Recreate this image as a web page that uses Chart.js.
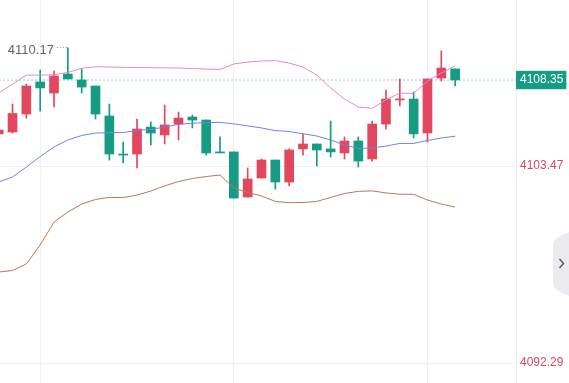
<!DOCTYPE html>
<html><head><meta charset="utf-8">
<script src="https://cdn.jsdelivr.net/npm/chart.js@4.4.1/dist/chart.umd.min.js"></script>
<style>html,body{margin:0;padding:0;background:#fff;overflow:hidden}#wrap{width:569px;height:383px;position:relative}</style>
</head><body><div id="wrap"><canvas id="c" width="569" height="383"></canvas></div>
<script>
// ---- data ----
const candleIndex = [0,1,2,3,4,5,6,7,8,9,10,11,12,13,14,15,16,17,18,19,20,21,22,23,24,25,26,27,28,29,30,31,32,33];
const opens  = [4105.29,4105.40,4106.42,4108.24,4107.61,4108.69,4108.35,4108.01,4106.31,4104.15,4104.15,4105.68,4105.23,4105.85,4106.25,4106.08,4104.27,4104.27,4101.71,4102.79,4103.81,4102.56,4104.44,4104.72,4104.44,4104.21,4104.89,4103.87,4105.85,4107.22,4107.27,4105.34,4108.46,4108.98];
const highs  = [4105.63,4106.99,4108.12,4108.92,4108.86,4110.17,4108.98,4108.01,4106.99,4104.83,4106.14,4105.97,4106.93,4106.53,4106.36,4106.08,4105.12,4104.27,4103.36,4103.87,4103.81,4104.44,4105.29,4104.72,4106.02,4105.12,4105.12,4106.02,4107.78,4108.41,4107.67,4108.41,4110.00,4108.98];
const lows   = [4105.17,4105.34,4106.19,4106.59,4106.82,4108.41,4107.61,4106.14,4103.81,4103.64,4103.36,4104.66,4104.72,4104.95,4105.63,4104.09,4104.21,4101.65,4101.71,4102.79,4102.16,4102.34,4104.09,4103.47,4103.98,4103.87,4103.41,4103.75,4105.57,4106.88,4105.06,4104.83,4108.29,4108.01];
const closes = [4105.51,4106.45,4108.01,4107.90,4108.58,4108.41,4107.95,4106.42,4104.15,4104.09,4105.57,4105.34,4105.80,4106.19,4106.08,4104.21,4104.21,4101.65,4102.73,4103.81,4102.56,4104.38,4104.72,4104.38,4104.27,4104.89,4103.75,4105.85,4107.27,4107.27,4105.29,4108.41,4109.03,4108.35];
const upperBand  = [4107.61,4108.12,4108.63,4108.63,4108.65,4108.78,4109.02,4109.10,4109.09,4109.07,4109.06,4109.05,4109.04,4109.03,4109.00,4108.97,4108.95,4109.26,4109.37,4109.43,4109.45,4109.31,4109.09,4108.63,4107.90,4107.27,4106.82,4106.74,4107.23,4107.61,4107.59,4108.29,4108.75,4109.14];
const middleBand = [4102.56,4102.85,4103.41,4104.00,4104.55,4104.95,4105.20,4105.34,4105.36,4105.37,4105.48,4105.55,4105.68,4105.83,4105.90,4105.93,4105.95,4105.86,4105.75,4105.63,4105.48,4105.43,4105.30,4105.17,4104.95,4104.66,4104.47,4104.49,4104.60,4104.75,4104.75,4104.92,4105.06,4105.16];
const lowerBand  = [4097.45,4097.54,4097.91,4098.99,4100.29,4100.86,4101.31,4101.57,4101.69,4101.68,4101.82,4102.05,4102.34,4102.59,4102.76,4102.87,4102.96,4102.22,4101.97,4101.77,4101.46,4101.39,4101.40,4101.46,4101.69,4101.91,4102.03,4102.06,4101.94,4101.87,4101.86,4101.54,4101.31,4101.14];
const lastPrice = 4108.35;
const yTickValues = [4092.29, 4103.47, 4108.35];
const xGridIndices = [3, 17, 31];
const highMarkIndex = 5;
const highMarkLabel = '4110.17';

// ---- styles ----
const UP = '#e1485d', DOWN = '#169c82';
const candleColors = candleIndex.map(i => closes[i] >= opens[i] ? UP : DOWN);
const pts = arr => candleIndex.map(i => ({x: i, y: arr[i]}));

const extras = {
  id: 'extras',
  afterDatasetsDraw(chart) {
    const {ctx, scales: {x, y}} = chart;
    const hx = x.getPixelForValue(highMarkIndex);
    const hy = y.getPixelForValue(highs[highMarkIndex]);
    ctx.save();
    ctx.strokeStyle = '#9a9a9a';
    ctx.lineWidth = 1;
    ctx.setLineDash([1, 2]);
    ctx.beginPath();
    ctx.moveTo(hx - 11, Math.round(hy) - 0.5);
    ctx.lineTo(hx - 1, Math.round(hy) - 0.5);
    ctx.stroke();
    ctx.setLineDash([]);
    ctx.fillStyle = '#666';
    ctx.font = '13px "Liberation Sans", Arial, sans-serif';
    ctx.textAlign = 'right';
    ctx.textBaseline = 'middle';
    ctx.fillText(highMarkLabel, hx - 14, hy + 2);
    // side tab
    ctx.fillStyle = '#ebebef';
    ctx.beginPath();
    ctx.moveTo(569, 232);
    ctx.lineTo(560, 236);
    ctx.quadraticCurveTo(553, 239, 553, 246);
    ctx.lineTo(553, 282);
    ctx.quadraticCurveTo(553, 289, 560, 292);
    ctx.lineTo(569, 296);
    ctx.closePath();
    ctx.fill();
    ctx.strokeStyle = '#555';
    ctx.lineWidth = 1.4;
    ctx.beginPath();
    ctx.moveTo(559.5, 259);
    ctx.lineTo(563.5, 263.5);
    ctx.lineTo(559.5, 268);
    ctx.stroke();
    ctx.restore();
  }
};

new Chart(document.getElementById('c'), {
  data: {
    datasets: [
      { type: 'line', label: 'last', data: [{x: -2, y: lastPrice}, {x: 40, y: lastPrice}],
        borderColor: '#86d0c3', borderWidth: 1, borderDash: [2, 2], pointRadius: 0, order: 5 },
      { type: 'bar', label: 'wick', data: candleIndex.map(i => ({x: i, y: [lows[i], highs[i]]})),
        backgroundColor: candleColors, borderWidth: 0, barThickness: 1, grouped: false, order: 4 },
      { type: 'bar', label: 'body', data: candleIndex.map(i => ({x: i, y: [opens[i], closes[i]]})),
        backgroundColor: candleColors, borderWidth: 0, barThickness: 9, minBarLength: 1, grouped: false, order: 3 },
      { type: 'line', label: 'upper', data: pts(upperBand), borderColor: '#da8cd6', borderWidth: 1, pointRadius: 0, tension: 0, order: 1 },
      { type: 'line', label: 'middle', data: pts(middleBand), borderColor: '#7083ec', borderWidth: 1, pointRadius: 0, tension: 0, order: 1 },
      { type: 'line', label: 'lower', data: pts(lowerBand), borderColor: '#b47a55', borderWidth: 1, pointRadius: 0, tension: 0, order: 1 }
    ]
  },
  options: {
    responsive: false,
    animation: false,
    devicePixelRatio: 1,
    layout: { padding: 0, autoPadding: false },
    plugins: { legend: { display: false }, tooltip: { enabled: false } },
    scales: {
      x: {
        type: 'linear', min: 0.094, max: 37.4, offset: false,
        afterBuildTicks: s => { s.ticks = xGridIndices.map(v => ({value: v})); },
        ticks: { display: false },
        grid: { color: '#f1f1f3', drawTicks: false, offset: false },
        border: { display: false }
      },
      y: {
        type: 'linear', position: 'right', min: 4091.155, max: 4112.891,
        afterBuildTicks: s => { s.ticks = yTickValues.slice().sort((a, b) => a - b).map(v => ({value: v})); },
        afterFit: s => { s.width = 53; s.paddingTop = 0; s.paddingBottom = 0; },
        ticks: {
          padding: 4,
          font: { size: 12, family: '"Liberation Sans", Arial, sans-serif' },
          color: c => c.tick && c.tick.value === lastPrice ? '#ffffff' : '#d64a5e',
          callback: v => Number(v).toFixed(2),
          showLabelBackdrop: true,
          backdropColor: c => c.tick && c.tick.value === lastPrice ? '#169c82' : 'rgba(0,0,0,0)',
          backdropPadding: { left: 4, right: 3, top: 2, bottom: 2 }
        },
        grid: { color: c => c.tick && c.tick.value === lastPrice ? 'rgba(0,0,0,0)' : '#f1f1f3', drawTicks: false },
        border: { color: '#eeeeef' }
      }
    }
  },
  plugins: [extras]
});
</script>
</body></html>
